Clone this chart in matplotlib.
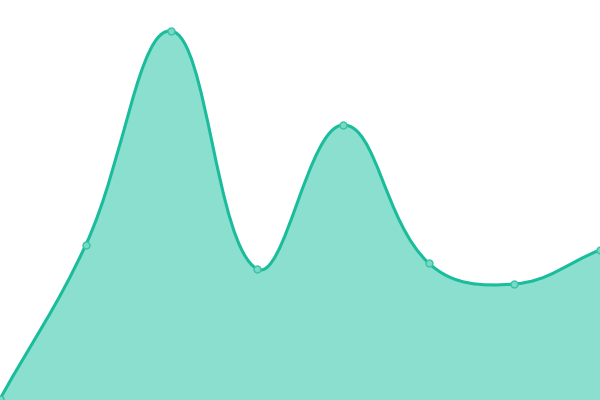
import numpy as np
import matplotlib.pyplot as plt
from matplotlib.path import Path
from matplotlib.patches import PathPatch

labels = ['A', 'B', 'C', 'D', 'E', 'F', 'G', 'H']
values = [1, 155, 369, 131, 275, 137, 116, 150]

line_color = '#1abc9c'
fill_color = '#8adfcf'
tension = 0.4

fig = plt.figure(figsize=(6, 4), dpi=100)
ax = fig.add_axes([0, 0, 1, 1])
ax.set_xlim(0, len(labels) - 1)
ax.set_ylim(0, 400)
ax.axis('off')

x = np.arange(len(labels))
pts = ax.transData.transform(np.column_stack([x, values]))

# spline control points (tension style, like chart.js)
n = len(pts)
c_prev = np.zeros_like(pts)
c_next = np.zeros_like(pts)
for i in range(n):
    p0 = pts[max(i - 1, 0)]
    p1 = pts[i]
    p2 = pts[min(i + 1, n - 1)]
    d01 = np.hypot(*(p1 - p0))
    d12 = np.hypot(*(p2 - p1))
    tot = d01 + d12
    s01 = d01 / tot if tot else 0
    s12 = d12 / tot if tot else 0
    c_prev[i] = p1 - tension * s01 * (p2 - p0)
    c_next[i] = p1 + tension * s12 * (p2 - p0)

inv = ax.transData.inverted()
pts_d = inv.transform(pts)
cp_d = inv.transform(c_prev)
cn_d = inv.transform(c_next)
cp_d[:, 1] = np.clip(cp_d[:, 1], 0, 400)
cn_d[:, 1] = np.clip(cn_d[:, 1], 0, 400)

verts = [pts_d[0]]
codes = [Path.MOVETO]
for i in range(n - 1):
    verts += [cn_d[i], cp_d[i + 1], pts_d[i + 1]]
    codes += [Path.CURVE4] * 3

line_path = Path(verts, codes)
fill_path = Path(verts + [(x[-1], 0), (x[0], 0), pts_d[0]],
                 codes + [Path.LINETO, Path.LINETO, Path.CLOSEPOLY])

ax.add_patch(PathPatch(fill_path, facecolor=fill_color, edgecolor='none'))
ax.add_patch(PathPatch(line_path, facecolor='none', edgecolor=line_color, lw=2.2))
ax.plot(x, values, 'o', ms=5, mfc='#79d9c5', mec='#36c4a6', mew=1, clip_on=False)

fig.savefig('out.png', dpi=100)
